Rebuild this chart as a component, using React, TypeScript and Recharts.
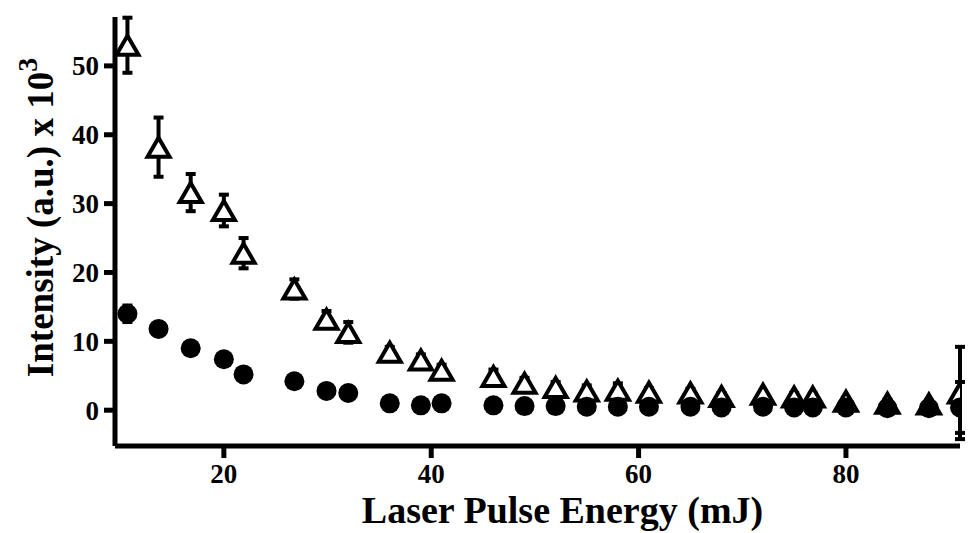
import React from 'react';
import {
  ScatterChart,
  Scatter,
  XAxis,
  YAxis,
  ErrorBar,
  Label,
} from 'recharts';

// pulse energies (mJ), shared by both series
const energies = [
  10.7, 13.7, 16.8, 20, 21.9, 26.8, 29.9, 32, 36, 39, 41, 46, 49, 52, 55, 58,
  61, 65, 68, 72, 75, 76.8, 80, 84, 88, 91,
];

// open triangles
const triValues = [
  53, 38.2, 31.6, 29, 22.8, 17.6, 13.2, 11.3, 8.4, 7.3, 5.8, 4.9, 3.9, 3.3,
  2.8, 2.9, 2.6, 2.5, 2.0, 2.3, 1.9, 1.9, 1.3, 1.0, 0.9, 2.5,
];
const triErrors = [
  4, 4.3, 2.7, 2.3, 2.2, 1.4, 1.2, 1.5, 0.8, 0.8, 0.8, 1.0, 0.8, 0.8, 0.8, 1.0,
  0.6, 0.6, 0.5, 0.5, 0.6, 0.5, 0.5, 0.5, 0.5, 6.7,
];

// filled circles
const circleValues = [
  14.0, 11.8, 9.0, 7.4, 5.2, 4.2, 2.8, 2.5, 1.0, 0.7, 1.0, 0.7, 0.6, 0.6, 0.5,
  0.5, 0.5, 0.5, 0.4, 0.5, 0.4, 0.4, 0.4, 0.3, 0.3, 0.4,
];
const circleErrors = [
  1.2, 0.4, 0.4, 0.4, 0.4, 0.3, 0.3, 0.3, 0.3, 0.3, 0.3, 0.3, 0.3, 0.3, 0.3,
  0.3, 0.3, 0.3, 0.3, 0.3, 0.3, 0.3, 0.3, 0.3, 0.3, 3.7,
];

const xTicks = [20, 40, 60, 80];
const yTicks = [0, 10, 20, 30, 40, 50];

const triData = energies.map((x, i) => ({ x, y: triValues[i], err: triErrors[i] }));
const circleData = energies.map((x, i) => ({ x, y: circleValues[i], err: circleErrors[i] }));

const FONT = '"Liberation Serif", "Times New Roman", serif';

const OpenTriangle = (props: any) => {
  const { cx, cy } = props;
  const h = 19;
  const w = 22;
  return (
    <path
      d={`M${cx},${cy - h / 2} L${cx + w / 2},${cy + h / 2} L${cx - w / 2},${cy + h / 2} Z`}
      fill="#fff"
      stroke="#000"
      strokeWidth={4}
      strokeLinejoin="miter"
    />
  );
};

const Dot = (props: any) => {
  const { cx, cy } = props;
  return <circle cx={cx} cy={cy} r={10} fill="#000" />;
};

const YTitle = (props: any) => {
  const { viewBox } = props;
  const x = viewBox.x + 53;
  const y = viewBox.y + viewBox.height / 2 - 14;
  return (
    <text
      x={x}
      y={y}
      transform={`rotate(-90 ${x} ${y})`}
      textAnchor="middle"
      fontFamily={FONT}
      fontWeight="bold"
      fontSize={37}
      fill="#000"
    >
      Intensity (a.u.) x 10
      <tspan dy={-16} fontSize={28}>3</tspan>
    </text>
  );
};

const XTitle = (props: any) => {
  const { viewBox } = props;
  const x = viewBox.x + viewBox.width / 2 + 25;
  return (
    <text
      x={x}
      y={523}
      textAnchor="middle"
      fontFamily={FONT}
      fontWeight="bold"
      fontSize={38}
      fill="#000"
    >
      Laser Pulse Energy (mJ)
    </text>
  );
};

const tickStyle = {
  fontFamily: FONT,
  fontWeight: 'bold',
  fontSize: 27,
  fill: '#000',
};

export default function App() {
  return (
    <div style={{ position: 'absolute', left: 0, top: 0, background: '#fff' }}>
      <ScatterChart
        width={972}
        height={533}
        margin={{ top: 17, right: 12, bottom: 0, left: 0 }}
      >
        <XAxis
          type="number"
          dataKey="x"
          domain={[9.5, 91]}
          ticks={xTicks}
          allowDataOverflow
          height={87}
          tickSize={12}
          tickMargin={6}
          axisLine={{ stroke: '#000', strokeWidth: 5 }}
          tickLine={{ stroke: '#000', strokeWidth: 5 }}
          tick={tickStyle}
        >
          <Label content={<XTitle />} />
        </XAxis>
        <YAxis
          type="number"
          dataKey="y"
          domain={[-5.2, 57.1]}
          ticks={yTicks}
          allowDataOverflow
          width={115}
          tickSize={11}
          tickMargin={5}
          axisLine={{ stroke: '#000', strokeWidth: 5 }}
          tickLine={{ stroke: '#000', strokeWidth: 5 }}
          tick={tickStyle}
        >
          <Label content={<YTitle />} />
        </YAxis>
        <Scatter data={triData} shape={<OpenTriangle />} isAnimationActive={false}>
          <ErrorBar dataKey="err" direction="y" width={5} stroke="#000" strokeWidth={4} />
        </Scatter>
        <Scatter data={circleData} shape={<Dot />} isAnimationActive={false}>
          <ErrorBar dataKey="err" direction="y" width={5} stroke="#000" strokeWidth={4} />
        </Scatter>
      </ScatterChart>
    </div>
  );
}
